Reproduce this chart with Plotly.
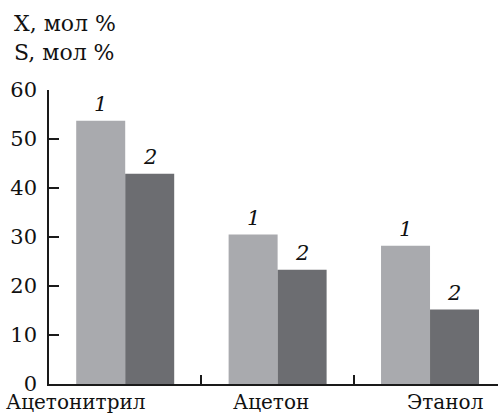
import plotly.graph_objects as go

# Solvents and the two measured quantities (mol %)
solvents = ["Ацетонитрил", "Ацетон", "Этанол"]
conversion_x = [53.7, 30.5, 28.2]     # series 1
selectivity_s = [42.9, 23.3, 15.2]    # series 2
series_labels = ["1", "2"]
y_ticks = [0, 10, 20, 30, 40, 50, 60]

FONT = "DejaVu Serif"
idx = list(range(len(solvents)))

fig = go.Figure()
fig.add_trace(go.Bar(x=idx, y=conversion_x, marker_color="#a9aaae",
                     marker_line_width=0, name=series_labels[0]))
fig.add_trace(go.Bar(x=idx, y=selectivity_s, marker_color="#6c6d71",
                     marker_line_width=0, name=series_labels[1]))

# italic series numbers above each bar
for values, label, off in [(conversion_x, series_labels[0], -0.16),
                           (selectivity_s, series_labels[1], 0.16)]:
    for i, v in zip(idx, values):
        fig.add_annotation(x=i + off, y=v, text=label, showarrow=False,
                           yanchor="bottom", yshift=3,
                           font=dict(family=FONT, size=21, color="#111",
                                     style="italic"),
                           xref="x", yref="y")

# category names under the axis
shifts = [-49, -7, 15]
for i, name in enumerate(solvents):
    fig.add_annotation(x=i, y=0, text=name, showarrow=False, xref="x", yref="y",
                       yanchor="top", yshift=-4, xshift=shifts[i],
                       font=dict(family=FONT, size=20, color="#111"))

# axis titles stacked in the upper left corner (plot area spans 90..384 px)
for text, ypix in [("X, мол %", 24), ("S, мол %", 53)]:
    fig.add_annotation(x=(12 - 49) / 449, y=1 + (90 - ypix) / 294,
                       xref="paper", yref="paper",
                       text=text, showarrow=False, xanchor="left", yanchor="middle",
                       font=dict(family=FONT, size=22, color="#111"))

fig.update_layout(
    width=498, height=415,
    margin=dict(l=49, r=0, t=90, b=31),
    plot_bgcolor="white", paper_bgcolor="white",
    barmode="group", bargap=0.357, bargroupgap=0,
    showlegend=False,
    font=dict(family=FONT, size=21, color="#111"),
)
fig.update_xaxes(range=[-0.5, 2.446], showgrid=False, zeroline=False,
                 showline=True, linecolor="#1a1a1a", linewidth=1.5,
                 tickvals=[0.5, 1.5], ticktext=["", ""], ticks="inside",
                 ticklen=9, tickcolor="#1a1a1a", tickwidth=1.5)
fig.update_yaxes(range=[0, 60], showgrid=False, zeroline=False,
                 showline=True, linecolor="#1a1a1a", linewidth=1.5,
                 tickvals=y_ticks, ticks="inside", ticklen=10,
                 tickcolor="#1a1a1a", tickwidth=1.5, ticklabelstandoff=6,
                 tickfont=dict(family=FONT, size=21, color="#111"))

fig.write_html("out.html")
